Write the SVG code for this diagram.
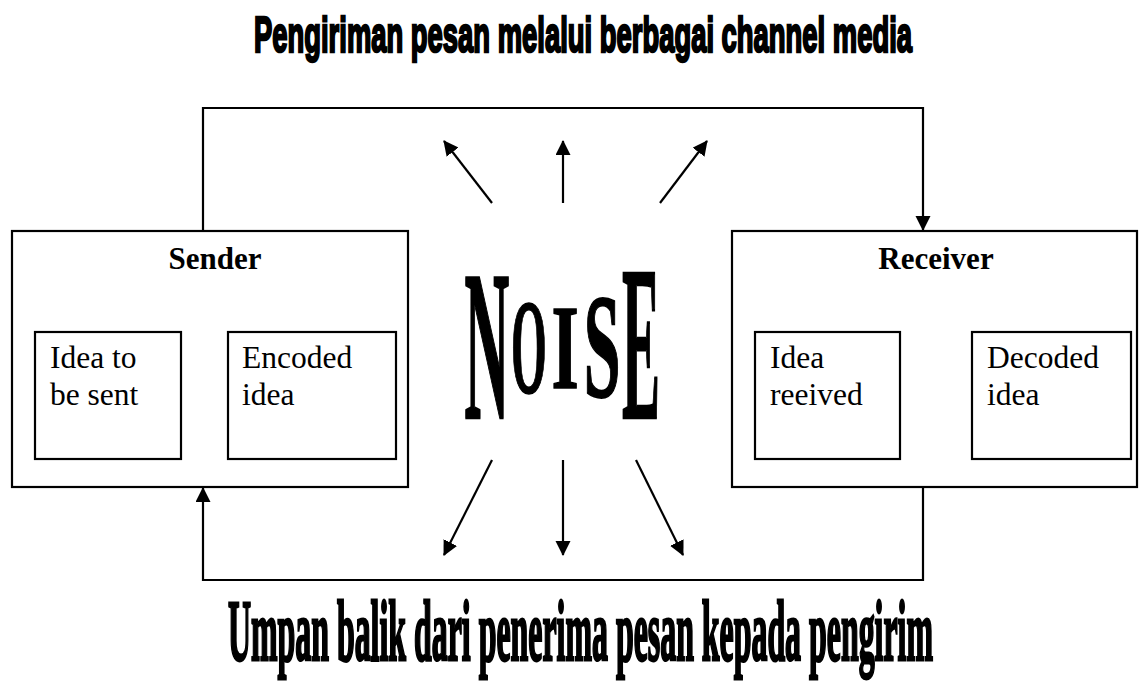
<svg xmlns="http://www.w3.org/2000/svg" width="1141" height="683" viewBox="0 0 1141 683">
<style>
.box{fill:#fff;stroke:#000;stroke-width:2.2}
.arr{fill:none;stroke:#000;stroke-width:2.2;marker-end:url(#ah)}
.hd{font-family:"Liberation Serif","Times New Roman",serif;font-weight:bold;font-size:31px;fill:#000;text-anchor:middle}
.tx{font-family:"Liberation Serif","Times New Roman",serif;font-size:31.5px;fill:#000}
.t1{font-family:"Liberation Sans",Arial,sans-serif;font-weight:bold;font-size:50px;fill:#000;stroke:#000;stroke-width:2.6}
.t2{font-family:"Liberation Serif","Times New Roman",serif;font-weight:bold;font-size:86px;fill:#000;stroke:#000;stroke-width:3}
.nz{font-family:"Liberation Serif","Times New Roman",serif;font-weight:bold;font-size:100px;fill:#000;stroke:#000;stroke-width:1.2;text-anchor:middle}
</style>
<defs>
<marker id="ah" markerUnits="userSpaceOnUse" markerWidth="16" markerHeight="16" refX="14" refY="7.5" orient="auto">
<path d="M0,0 L15,7.5 L0,15 z" fill="#000"/>
</marker>
</defs>
<rect width="1141" height="683" fill="#fff"/>
<text class="t1" x="254" y="52" textLength="658" lengthAdjust="spacingAndGlyphs">Pengiriman pesan melalui berbagai channel media</text>
<text class="t2" x="228" y="660" textLength="705" lengthAdjust="spacingAndGlyphs">Umpan balik dari penerima pesan kepada pengirim</text>
<g id="connectors">
<path class="arr" d="M203,231 L203,108 L923,108 L923,230"/>
<path class="arr" d="M923,487 L923,580 L203,580 L203,488"/>
<path class="arr" d="M181,396 L228,396"/>
<path class="arr" d="M900,396 L972,396"/>
<path class="arr" d="M492,203 L444,141"/>
<path class="arr" d="M563,203 L563,141"/>
<path class="arr" d="M660,203 L707,141"/>
<path class="arr" d="M492,460 L444,555"/>
<path class="arr" d="M563,460 L563,555"/>
<path class="arr" d="M636,460 L683,555"/>
</g>
<g id="sender">
<rect class="box" x="12" y="231" width="396" height="256"/>
<text class="hd" x="215" y="269">Sender</text>
</g>
<g id="idea-to-be-sent">
<rect class="box" x="35" y="332" width="146" height="127"/>
<text class="tx" x="50" y="368">Idea to</text>
<text class="tx" x="50" y="405">be sent</text>
</g>
<g id="encoded-idea">
<rect class="box" x="228" y="332" width="168" height="127"/>
<text class="tx" x="242" y="368">Encoded</text>
<text class="tx" x="242" y="405">idea</text>
</g>
<g id="receiver">
<rect class="box" x="732" y="231" width="405" height="256"/>
<text class="hd" x="936" y="269">Receiver</text>
</g>
<g id="idea-received">
<rect class="box" x="755" y="332" width="145" height="127"/>
<text class="tx" x="770" y="368">Idea</text>
<text class="tx" x="770" y="405">reeived</text>
</g>
<g id="decoded-idea">
<rect class="box" x="972" y="332" width="159" height="127"/>
<text class="tx" x="987" y="368">Decoded</text>
<text class="tx" x="987" y="405">idea</text>
</g>
<g id="noise">
<text class="nz" transform="translate(487,418) scale(0.62,2.15)">N</text>
<text class="nz" transform="translate(529,393) scale(0.46,1.36)">O</text>
<text class="nz" transform="translate(565,388) scale(0.7,1.2)">I</text>
<text class="nz" transform="translate(602,397) scale(0.66,1.48)">S</text>
<text class="nz" transform="translate(641,418) scale(0.57,2.2)">E</text>
</g>
</svg>
